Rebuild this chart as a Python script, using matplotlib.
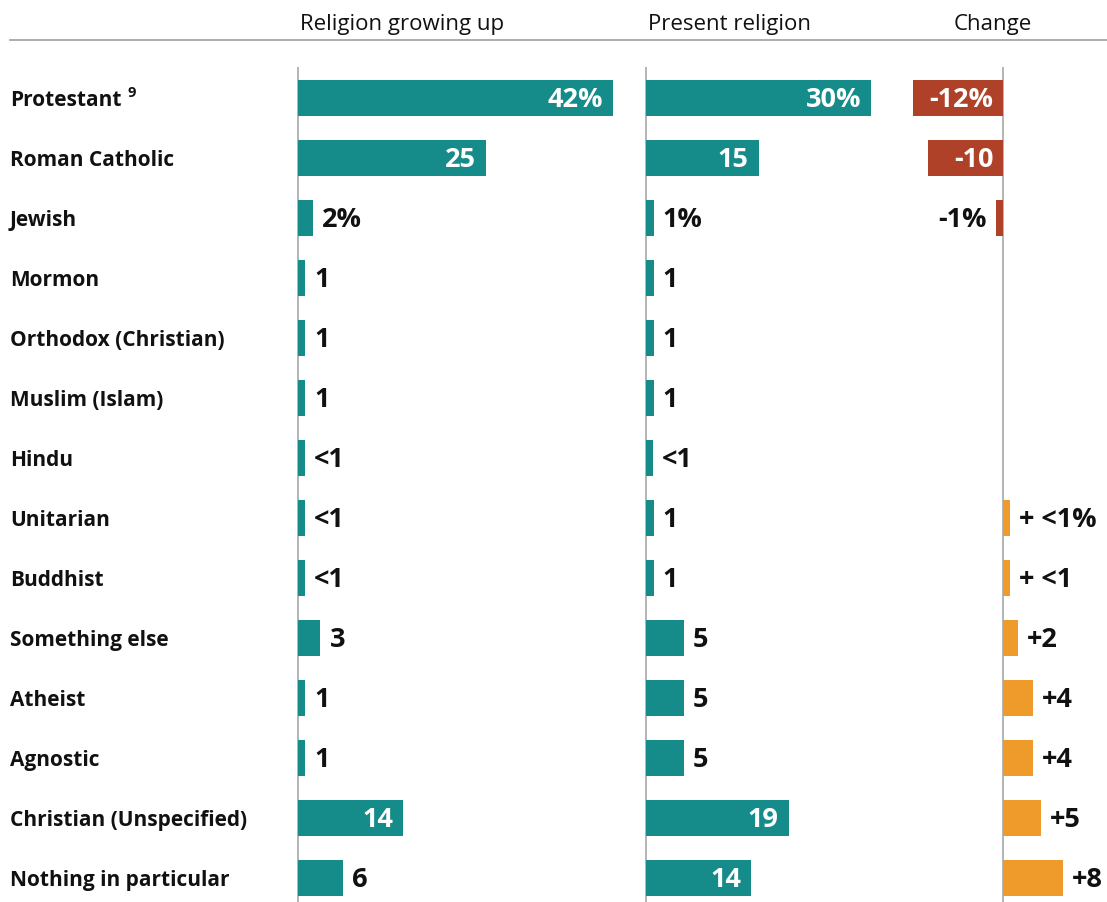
import matplotlib
matplotlib.use("Agg")
import matplotlib.pyplot as plt
from matplotlib.lines import Line2D
from matplotlib.transforms import blended_transform_factory, offset_copy

plt.rcParams['font.family'] = ['Open Sans', 'DejaVu Sans']

# ---------------- data ----------------
categories = ["Protestant", "Roman Catholic", "Jewish", "Mormon", "Orthodox (Christian)",
              "Muslim (Islam)", "Hindu", "Unitarian", "Buddhist", "Something else",
              "Atheist", "Agnostic", "Christian (Unspecified)", "Nothing in particular"]
footnote_index = 0
footnote_mark = "9"

growing_up = [42, 25, 2, 1, 1, 1, 0.9, 0.9, 0.9, 3, 1, 1, 14, 6]
growing_up_labels = ["42%", "25", "2%", "1", "1", "1", "<1", "<1", "<1", "3", "1", "1", "14", "6"]

present = [30, 15, 1, 1, 1, 1, 0.9, 1, 1, 5, 5, 5, 19, 14]
present_labels = ["30%", "15", "1%", "1", "1", "1", "<1", "1", "1", "5", "5", "5", "19", "14"]

change = [-12, -10, -1, None, None, None, None, 0.9, 0.9, 2, 4, 4, 5, 8]
change_labels = ["-12%", "-10", "-1%", "", "", "", "", "+ <1%", "+ <1", "+2", "+4", "+4", "+5", "+8"]

column_titles = ["Religion growing up", "Present religion", "Change"]

# ---------------- style ----------------
TEAL = "#168C8A"
RED = "#AE4127"
ORANGE = "#EE9B2C"
AXIS = "#A0A0A0"
TEXT = "#111111"
INSIDE_MIN = 10

W, H = 1107, 903
DPI = 100
SCALE = 7.5            # px per percentage point
fig = plt.figure(figsize=(W / DPI, H / DPI), dpi=DPI)

top_px = 68
n = len(categories)
row_px = 60
first_center = 98.5
ylim_top = -(first_center - top_px) / row_px
ylim_bot = (H - first_center) / row_px


def make_axes(left_px, right_px, zero_px):
    ax = fig.add_axes([left_px / W, 0, (right_px - left_px) / W, (H - top_px) / H])
    ax.set_xlim(-(zero_px - left_px) / SCALE, (right_px - zero_px) / SCALE)
    ax.set_ylim(ylim_bot, ylim_top)
    for s in ax.spines.values():
        s.set_visible(False)
    ax.set_xticks([])
    ax.set_yticks([])
    ax.patch.set_alpha(0)
    ax.axvline(0, color=AXIS, lw=1.1, zorder=1)
    return ax


ax1 = make_axes(292, 640, 298)
ax2 = make_axes(642, 900, 646)
ax3 = make_axes(902, 1107, 1003)

BAR_H = 0.6
VAL_FS = 19.5
ys = list(range(n))


def put(ax, lab, x, y, dx, ha, color):
    ax.annotate(lab, xy=(x, y), xytext=(dx, -1), textcoords="offset points",
                ha=ha, va="center", color=color,
                fontsize=VAL_FS, fontweight="bold", zorder=3)


def draw(ax, values, labels, colors):
    for y, v, lab, c in zip(ys, values, labels, colors):
        if v is None:
            continue
        ax.barh(y, v, height=BAR_H, color=c, zorder=2)
        inside = abs(v) >= INSIDE_MIN
        if v >= 0:
            if inside:
                put(ax, lab, v, y, -7, "right", "white")
            else:
                put(ax, lab, v, y, 6.5, "left", TEXT)
        else:
            if inside:
                put(ax, lab, 0, y, -7, "right", "white")
            else:
                put(ax, lab, v, y, -6.5, "right", TEXT)


draw(ax1, growing_up, growing_up_labels, [TEAL] * n)
draw(ax2, present, present_labels, [TEAL] * n)
draw(ax3, change, change_labels,
     [None if v is None else (RED if v < 0 else ORANGE) for v in change])

# row labels
tr = blended_transform_factory(fig.transFigure, ax1.transData)
tr = offset_copy(tr, fig=fig, x=0, y=-1.5, units="points")
label_texts = []
for y, cat in zip(ys, categories):
    t = fig.text(10 / W, y, cat, transform=tr, ha="left", va="center",
                 fontsize=15, fontweight="bold", color=TEXT)
    label_texts.append(t)

fig.canvas.draw()
renderer = fig.canvas.get_renderer()
bb = label_texts[footnote_index].get_window_extent(renderer)
fig.text((bb.x1 + 6) / W, (bb.y1 + 4) / H, footnote_mark, ha="left", va="top",
         fontsize=10.5, fontweight="bold", color=TEXT)

# column headers
header_x = [402, 730, 993]
for x, t in zip(header_x, column_titles):
    fig.text(x / W, 1 - 24.5 / H, t, ha="center", va="center", fontsize=16, color=TEXT)

fig.add_artist(Line2D([10 / W, 1], [1 - 41 / H, 1 - 41 / H], color=AXIS, lw=1.2))

fig.savefig("out.png", dpi=DPI)
